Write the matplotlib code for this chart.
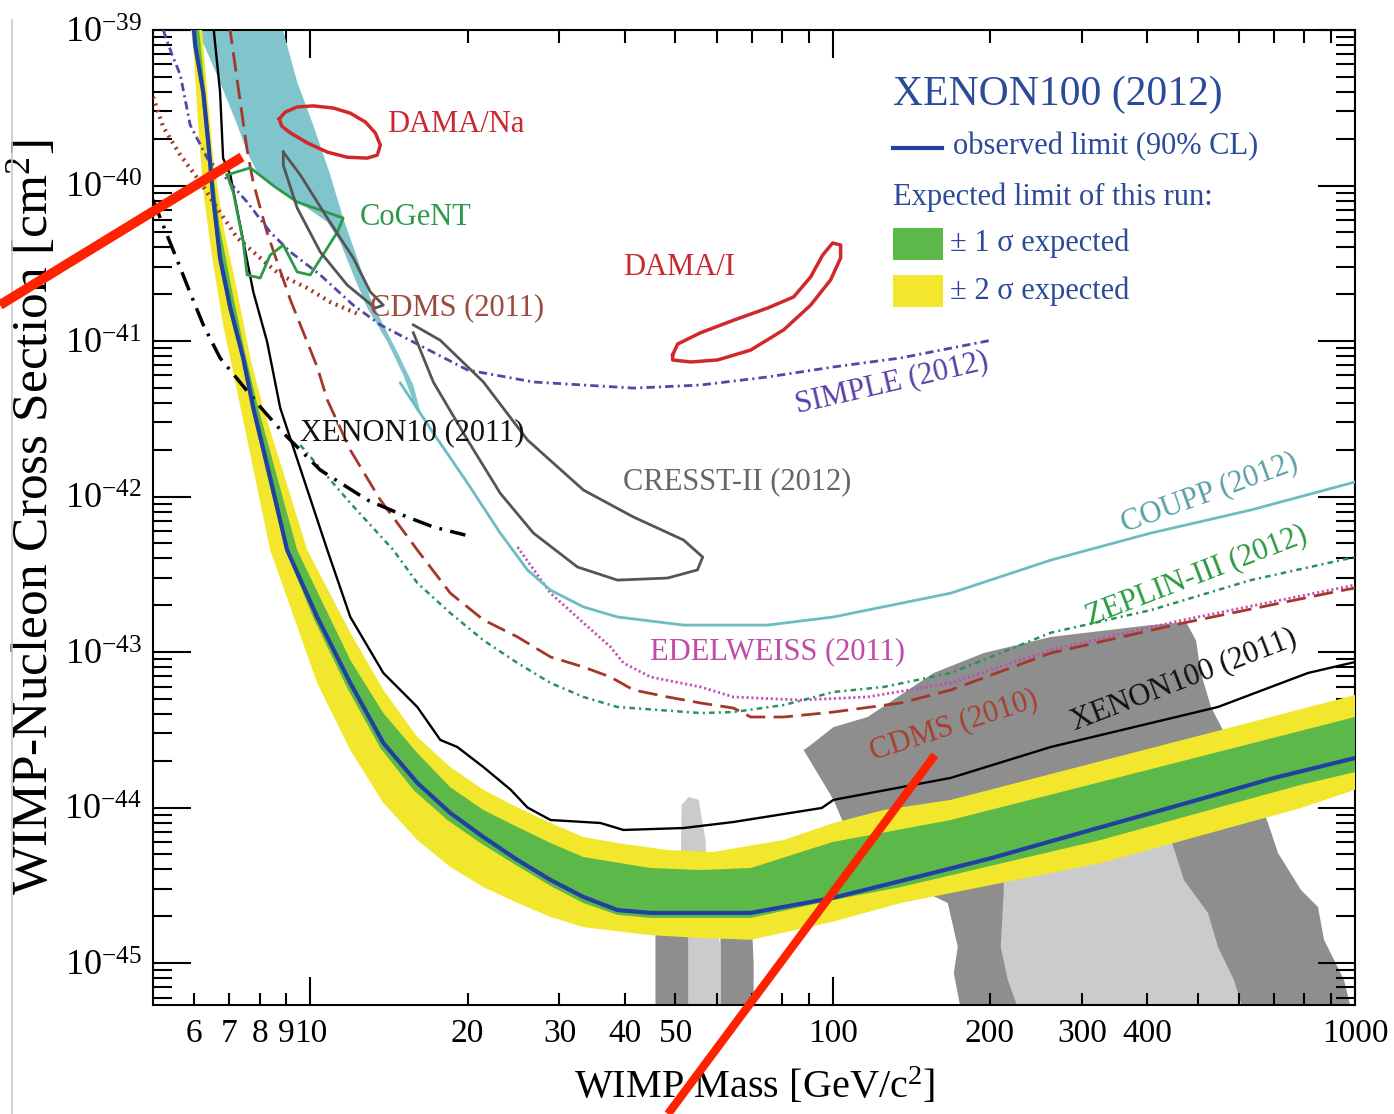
import numpy as np
import matplotlib
matplotlib.use('Agg')
import matplotlib.pyplot as plt
from matplotlib.ticker import FixedLocator, FuncFormatter, NullFormatter
from matplotlib.lines import Line2D
from matplotlib.patches import Rectangle

plt.rcParams['font.family'] = 'serif'
plt.rcParams['font.serif'] = ['Liberation Serif', 'DejaVu Serif']
plt.rcParams['mathtext.fontset'] = 'custom'
plt.rcParams['mathtext.rm'] = 'Liberation Serif'
plt.rcParams['mathtext.it'] = 'Liberation Serif:italic'
plt.rcParams['lines.scale_dashes'] = False

# XENON100 (2012) expected band edges and observed limit  [GeV, cm^2]
yt_m = [6.17, 6.21, 6.35, 6.52, 6.81, 7.25, 7.68, 8.13, 9.87, 11.93, 13.8, 16.03, 18.54, 21.45, 24.93,
        28.84, 33.34, 38.73, 48.3, 59.0, 80.6, 100.4, 125.2, 168.3, 200, 500, 1000]
yt_s = [1.35e-39, 1.0e-39, 3.99e-40, 1.5e-40, 5.57e-41, 2.07e-41, 7.78e-42, 3.71e-42, 4.53e-43, 1.33e-43,
        5.7e-44, 2.84e-44, 1.82e-44, 1.3e-44, 1.0e-44, 7.95e-45, 6.46e-45, 5.91e-45, 5.33e-45, 5.17e-45,
        6.18e-45, 7.95e-45, 9.64e-45, 1.12e-44, 1.3e-44, 2.88e-44, 5.29e-44]
gt_m = [6.10, 6.13, 6.29, 6.46, 6.70, 7.09, 7.54, 7.95, 9.44, 11.93, 13.8, 16.03, 18.54, 21.45, 24.93,
        28.84, 33.34, 44.8, 55.86, 69.7, 100, 168.3, 326, 1000]
gt_s = [1.35e-39, 1.0e-39, 3.99e-40, 1.5e-40, 5.57e-41, 2.07e-41, 7.78e-42, 3.71e-42, 4.53e-43, 8.88e-44,
        4.05e-44, 2.24e-44, 1.35e-44, 9.64e-45, 7.49e-45, 5.91e-45, 4.8e-45, 4.08e-45, 3.96e-45, 4.08e-45,
        6.0e-45, 8.31e-45, 1.46e-44, 3.82e-44]
gb_m = [5.92, 6.0, 6.18, 6.32, 6.46, 6.67, 6.97, 7.38, 7.71, 8.31, 8.96, 10.18, 11.77, 13.62, 15.75,
        18.30, 21.17, 24.93, 28.84, 33.34, 38.73, 44.8, 55.86, 69.7, 100, 135, 326, 788, 1000]
gb_s = [1.16e-39, 8.01e-40, 3.99e-40, 1.9e-40, 8.31e-41, 3.42e-41, 1.63e-41, 7.78e-42, 3.71e-42, 1.28e-42,
        4.53e-43, 1.61e-43, 5.87e-44, 2.41e-44, 1.3e-44, 8.31e-45, 5.91e-45, 4.2e-45, 3.13e-45, 2.43e-45,
        2.04e-45, 1.95e-45, 1.95e-45, 1.95e-45, 2.54e-45, 3.08e-45, 6.18e-45, 1.4e-44, 1.69e-44]
yb_m = [5.89, 5.97, 6.10, 6.24, 6.49, 6.81, 7.25, 8.38, 10.31, 11.93, 13.8, 16.03, 18.54, 21.45, 24.93,
        28.84, 33.34, 44.8, 55.86, 69.7, 100, 135, 326, 788, 1000]
yb_s = [1.08e-39, 8.01e-40, 2.45e-40, 9.08e-41, 3.42e-41, 1.27e-41, 4.7e-42, 4.53e-43, 6.32e-44, 2.34e-44,
        1.07e-44, 6.18e-45, 4.14e-45, 3.08e-45, 2.43e-45, 1.98e-45, 1.7e-45, 1.51e-45, 1.45e-45, 1.41e-45,
        1.84e-45, 2.43e-45, 4.39e-45, 9.93e-45, 1.3e-44]
obs_m = [5.97, 6.02, 6.24, 6.38, 6.52, 6.72, 7.03, 7.44, 7.78, 8.38, 9.03, 10.31, 11.93, 13.8, 16.03,
         18.54, 21.45, 24.93, 28.84, 33.34, 38.73, 44.8, 55.86, 69.7, 100, 150, 200, 300, 500, 700, 1000]
obs_s = [1.16e-39, 8.01e-40, 3.99e-40, 1.9e-40, 8.31e-41, 3.42e-41, 1.63e-41, 7.78e-42, 3.71e-42, 1.32e-42,
         4.53e-43, 1.68e-43, 6.32e-44, 2.6e-44, 1.44e-44, 9.22e-45, 6.46e-45, 4.6e-45, 3.42e-45, 2.66e-45,
         2.19e-45, 2.1e-45, 2.1e-45, 2.1e-45, 2.62e-45, 3.68e-45, 4.7e-45, 6.9e-45, 1.12e-44, 1.55e-44, 2.08e-44]

# other limits
x100_11_m = [6.52, 6.72, 6.81, 7.03, 7.34, 7.78, 8.27, 8.76, 10.78, 11.93, 13.8, 16.03, 17.74, 19.12, 21.45,
             24.2, 26.05, 28.84, 35.94, 39.78, 51.83, 64.6, 95.3, 100.4, 168.3, 261.6, 546.5, 812.8, 1000]
x100_11_s = [1.08e-39, 3.99e-40, 1.5e-40, 1.17e-40, 5.57e-41, 2.07e-41, 9.85e-42, 3.71e-42, 4.53e-43, 1.68e-43,
             7.33e-44, 4.43e-44, 2.72e-44, 2.45e-44, 1.82e-44, 1.3e-44, 1.0e-44, 8.31e-45, 7.95e-45, 7.17e-45,
             7.38e-45, 8.07e-45, 9.93e-45, 1.12e-44, 1.55e-44, 2.45e-44, 4.43e-44, 7.33e-44, 8.62e-44]
cdms10_m = [7.0, 7.57, 7.78, 8.27, 9.16, 10.31, 10.78, 11.93, 13.62, 16.03, 18.54, 21.45, 24.93, 28.84, 33.34,
            37.55, 41.57, 48.3, 55.86, 64.6, 69.7, 80.6, 100.4, 135, 168.3, 261.6, 470.4, 911.6, 1000]
cdms10_s = [1.08e-39, 1.69e-40, 1.04e-40, 4.95e-41, 1.84e-41, 6.81e-42, 4.18e-42, 1.99e-42, 9.5e-43, 4.53e-43,
            2.39e-43, 1.61e-43, 1.25e-43, 9.29e-44, 8.01e-44, 6.91e-44, 5.7e-44, 5.14e-44, 4.7e-44, 4.36e-44,
            3.82e-44, 3.82e-44, 4.11e-44, 4.7e-44, 5.7e-44, 9.85e-44, 1.54e-43, 2.43e-43, 2.58e-43]
edel_m = [24.93, 28.84, 33.34, 37.55, 39.78, 44.8, 55.86, 64.6, 86.8, 116.7, 168.3, 261.6, 470.4, 1000]
edel_s = [4.73e-43, 2.39e-43, 1.54e-43, 1.08e-43, 8.5e-44, 6.91e-44, 5.96e-44, 5.14e-44, 4.91e-44, 5.14e-44,
          6.32e-44, 1.03e-43, 1.61e-43, 2.7e-43]
zep_m = [9.57, 11.93, 14.42, 16.03, 18.54, 21.45, 24.93, 28.84, 33.34, 38.73, 55.86, 64.6, 80.6, 100.4, 125.2,
         168.3, 261.6, 406.6, 632.1, 1000]
zep_s = [2.14e-42, 9.08e-43, 4.53e-43, 2.78e-43, 1.78e-43, 1.19e-43, 8.5e-44, 6.32e-44, 5.14e-44, 4.43e-44,
         4.05e-44, 4.11e-44, 4.56e-44, 5.53e-44, 5.96e-44, 7.33e-44, 1.33e-43, 1.86e-43, 2.9e-43, 4.08e-43]
coupp_m = [14.87, 17.2, 20.0, 23.1, 26.05, 28.84, 33.34, 38.73, 51.83, 75.1, 100.4, 168.3, 261.6, 406.6, 632.1, 1000]
coupp_s = [5.37e-42, 2.56e-42, 1.22e-42, 5.82e-43, 3.37e-43, 2.5e-43, 1.95e-43, 1.68e-43, 1.49e-43, 1.49e-43,
           1.68e-43, 2.39e-43, 3.9e-43, 5.82e-43, 8.19e-43, 1.24e-42]
cdms11_m = [5.0, 5.23, 5.64, 6.16, 6.63, 7.25, 8.02, 8.76, 9.87, 10.92, 12.47]
cdms11_s = [3.71e-40, 2.38e-40, 1.57e-40, 1.05e-40, 7.17e-41, 4.6e-41, 3.42e-41, 2.66e-41, 2.19e-41, 1.78e-41, 1.47e-41]
simple_m = [5.23, 5.44, 5.64, 5.89, 6.35, 6.81, 7.57, 8.38, 9.16, 10.45, 12.09, 13.62, 15.75, 20.0, 26.74,
            41.57, 55.86, 75.1, 100.4, 135, 200.8]
simple_s = [1.0e-39, 6.91e-40, 5.14e-40, 2.45e-40, 1.5e-40, 1.17e-40, 7.83e-41, 5.02e-41, 3.74e-41, 2.66e-41,
            1.7e-41, 1.27e-41, 9.85e-42, 6.51e-42, 5.45e-42, 4.98e-42, 5.21e-42, 5.87e-42, 6.81e-42, 7.78e-42, 1.01e-41]
x10_m = [5.0, 5.56, 5.89, 6.24, 6.72, 8.02, 8.88, 10.45, 12.86, 15.34, 17.2, 19.81]
x10_s = [8.07e-41, 3.32e-41, 2.04e-41, 1.27e-41, 7.78e-42, 3.77e-42, 2.56e-42, 1.48e-42, 9.5e-43, 7.38e-43,
         6.37e-43, 5.65e-43]

# signal regions (closed contours)
damana_m = [8.72, 8.96, 9.44, 10.13, 11.07, 11.93, 12.75, 13.32, 13.62, 13.44, 12.86, 11.77, 10.78, 9.87, 9.16, 8.82]
damana_s = [2.68e-40, 2.97e-40, 3.2e-40, 3.25e-40, 3.15e-40, 2.92e-40, 2.56e-40, 2.18e-40, 1.82e-40, 1.57e-40,
            1.5e-40, 1.52e-40, 1.64e-40, 1.88e-40, 2.18e-40, 2.41e-40]
damai_m = [49.4, 50.5, 55.86, 64.6, 75.1, 84.2, 90.75, 95.7, 100, 103.6, 103.6, 99.1, 90.75, 80.6, 69.7, 60.2, 53.5, 49.4]
damai_s = [8.13e-42, 9.56e-42, 1.13e-41, 1.36e-41, 1.63e-41, 1.92e-41, 2.58e-41, 3.57e-41, 4.27e-41, 4.14e-41,
           3.42e-41, 2.47e-41, 1.7e-41, 1.18e-41, 8.75e-42, 7.55e-42, 7.33e-42, 7.55e-42]
cogent_m = [6.93, 7.68, 8.49, 9.44, 11.56, 11.27, 10.0, 9.44, 8.88, 8.38, 8.02, 7.57, 7.44, 7.12]
cogent_s = [1.17e-40, 1.3e-40, 1.0e-40, 7.83e-41, 6.18e-41, 5.02e-41, 2.66e-41, 2.78e-41, 4.14e-41, 3.57e-41,
            2.54e-41, 2.66e-41, 4.33e-41, 9.08e-41]
cresst1_m = [8.88, 9.57, 10.78, 12.09, 13.03, 13.8, 13.32, 11.77, 10.45, 9.44, 8.88]
cresst1_s = [1.64e-40, 1.17e-40, 6.18e-41, 3.42e-41, 2.07e-41, 1.7e-41, 1.63e-41, 2.29e-41, 3.74e-41, 7.17e-41, 1.35e-40]
cresst2_m = [15.75, 17.74, 21.45, 26.05, 33.34, 41.57, 51.83, 56.4, 55.1, 48.3, 38.73, 32.47, 26.74, 23.1, 20.0, 17.2, 15.75]
cresst2_s = [1.27e-41, 1.01e-41, 5.45e-42, 2.31e-42, 1.1e-42, 7.38e-43, 5.25e-43, 4.08e-43, 3.37e-43, 2.99e-43,
             2.9e-43, 3.52e-43, 5.82e-43, 1.05e-42, 2.31e-42, 5.45e-42, 1.13e-41]
cyan_m = [5.97, 6.63, 7.25, 7.57, 7.91, 8.76, 9.87, 10.78, 11.41, 12.09, 12.86, 14.05, 15.07, 16.03,
          16.25, 15.75, 14.68, 13.8, 13.03, 12.30, 11.56, 10.92, 10.13, 9.44, 8.76]
cyan_s = [1.16e-39, 5.14e-40, 2.45e-40, 1.64e-40, 1.22e-40, 9.08e-41, 7.17e-41, 5.83e-41, 4.33e-41, 2.66e-41,
          1.63e-41, 9.85e-42, 6.04e-42, 3.49e-42,
          3.49e-42, 5.21e-42, 8.5e-42, 1.27e-41, 1.89e-41, 3.42e-41, 6.18e-41, 1.17e-40, 2.45e-40, 4.63e-40, 1.16e-39]

# theory regions (grey)
dark_m = [88.0, 90.75, 100.4, 116.7, 156.1, 194.7, 261.6, 406.6, 474.6, 496.1, 507, 530, 558.7, 632.1, 681.4,
          712.2, 788, 849.6, 872.4, 952.6, 1000, 178.2, 170.6, 173.6, 166.1, 135, 106.8, 100.4, 95.3]
dark_s = [2.34e-44, 2.52e-44, 3.29e-44, 3.82e-44, 7.33e-44, 9.85e-44, 1.25e-43, 1.49e-43, 1.56e-43, 1.19e-43,
          7.33e-44, 4.43e-44, 3.15e-44, 1.5e-44, 7.95e-45, 5.1e-45, 2.95e-45, 2.29e-45, 1.41e-45, 7.78e-46,
          4e-46, 4e-46, 8.62e-46, 1.27e-45, 2.43e-45, 3.42e-45, 6.86e-45, 1.12e-44, 1.5e-44]
light_m = [212.6, 438.5, 470.4, 523, 546.5, 586.4, 623.7, 232.3, 216.4, 209.8, 212.6]
light_s = [3.96e-45, 7.17e-45, 3.42e-45, 2.1e-45, 1.27e-45, 7.78e-46, 4e-46, 4e-46, 7.78e-46, 1.27e-45, 2.95e-45]
spike_l_m = [45.8, 45.8, 47.9, 53.0, 53.0]
spike_l_s = [4e-46, 1.63e-45, 2.54e-45, 2.54e-45, 4e-46]
spike_r_m = [61.0, 61.0, 69.7, 70.6, 70.6]
spike_r_s = [4e-46, 2.54e-45, 2.54e-45, 1.0e-45, 4e-46]
spike_c_m = [53.0, 53.0, 51.2, 51.4, 53.0, 55.4, 57.1, 57.9, 61.0, 61.0]
spike_c_s = [4e-46, 1.31e-45, 4.6e-45, 1.04e-44, 1.17e-44, 1.12e-44, 6.18e-45, 2.54e-45, 1.31e-45, 4e-46]

x_major = [10, 100, 1000]
x_minor = [6, 7, 8, 9, 20, 30, 40, 50, 60, 70, 80, 90, 200, 300, 400, 500, 600, 700, 800, 900]
x_labeled = [6, 7, 8, 9, 10, 20, 30, 40, 50, 100, 200, 300, 400, 1000]
y_exp = [-45, -44, -43, -42, -41, -40, -39]

fig = plt.figure(figsize=(13.94, 11.14), dpi=100)
ax = fig.add_axes([0.10976, 0.09785, 0.86227, 0.87522])
ax.set_xscale('log')
ax.set_yscale('log')
ax.set_xlim(5, 1000)
ax.set_ylim(5.37e-46, 1e-39)

# grey theory regions
ax.fill(dark_m, dark_s, color='#8e8e8e', lw=0, zorder=1)
ax.fill(light_m, light_s, color='#c9cbcc', lw=0, zorder=1.1)
ax.fill(spike_l_m, spike_l_s, color='#8e8e8e', lw=0, zorder=1)
ax.fill(spike_r_m, spike_r_s, color='#8e8e8e', lw=0, zorder=1)
ax.fill(spike_c_m, spike_c_s, color='#c9cbcc', lw=0, zorder=1.1)

# cyan region
ax.fill(cyan_m, cyan_s, color='#7fc5cb', lw=0, zorder=2)

# expected band
ax.fill(yt_m + yb_m[::-1], yt_s + yb_s[::-1], color='#f2e72c', lw=0, zorder=3)
ax.fill(gt_m + gb_m[::-1], gt_s + gb_s[::-1], color='#5db84a', lw=0, zorder=3.1)

# limits
ax.plot(x100_11_m, x100_11_s, color='black', lw=1.7, zorder=4)
ax.plot(cdms10_m, cdms10_s, color='#a3382a', lw=2.0, dashes=(14, 6), zorder=4)
ax.plot(edel_m, edel_s, color='#c24cb4', lw=2.0, dashes=(1.5, 2.0), zorder=4)
ax.plot(zep_m, zep_s, color='#27935a', lw=1.8, dashes=(4, 3, 1.5, 3), zorder=4)
ax.plot(coupp_m, coupp_s, color='#6cbcc2', lw=2.0, zorder=4)
ax.plot(cdms11_m, cdms11_s, color='#a3382a', lw=3.0, dashes=(1.5, 3.5), zorder=4)
ax.plot(simple_m, simple_s, color='#5545a8', lw=2.0, dashes=(6, 3, 1.5, 3), zorder=4)
ax.plot(x10_m, x10_s, color='black', lw=2.5, dashes=(14, 6, 2, 6), zorder=4)

# signal contours
ax.plot(damana_m + damana_m[:1], damana_s + damana_s[:1], color='#d2282c', lw=2.5, zorder=4.5)
ax.plot(damai_m + damai_m[:1], damai_s + damai_s[:1], color='#d2282c', lw=2.5, zorder=4.5)
ax.plot(cogent_m + cogent_m[:1], cogent_s + cogent_s[:1], color='#2c9a48', lw=2.0, zorder=4.5)
ax.plot(cresst1_m + cresst1_m[:1], cresst1_s + cresst1_s[:1], color='#555555', lw=2.0, zorder=4.5)
ax.plot(cresst2_m, cresst2_s, color='#555555', lw=2.0, zorder=4.5)

# observed XENON100 (2012)
ax.plot(obs_m, obs_s, color='#2140a0', lw=3.0, zorder=5)

# axes, ticks
for s in ax.spines.values():
    s.set_linewidth(1.5)
ax.xaxis.set_major_locator(FixedLocator(x_major))
ax.xaxis.set_minor_locator(FixedLocator(x_minor))


def xfmt(v, pos):
    return '%d' % round(v) if round(v) in x_labeled else ''


ax.xaxis.set_major_formatter(FuncFormatter(xfmt))
ax.xaxis.set_minor_formatter(FuncFormatter(xfmt))
ax.yaxis.set_major_locator(FixedLocator([10.0 ** e for e in y_exp]))
ax.yaxis.set_minor_locator(FixedLocator([k * 10.0 ** e for e in [-46] + y_exp[:-1] for k in range(2, 10)
                                         if 5.37e-46 < k * 10.0 ** e < 1e-39]))
ax.yaxis.set_major_formatter(FuncFormatter(lambda v, p: r'$10^{%d}$' % round(np.log10(v))))
ax.yaxis.set_minor_formatter(NullFormatter())

ax.tick_params(axis='both', which='both', direction='in', top=True, right=True, width=1.5)
ax.tick_params(axis='x', which='major', length=20, labelsize=24, pad=10)
ax.tick_params(axis='x', which='minor', length=9, labelsize=24, pad=10)
ax.tick_params(axis='y', which='major', length=27, labelsize=26, pad=8)
ax.tick_params(axis='y', which='minor', length=14)

ax.set_xlabel(r'WIMP Mass [GeV/c$^{2}$]', fontsize=29)
ax.xaxis.set_label_coords(0.5, -0.063)
ax.set_ylabel(r'WIMP-Nucleon Cross Section [cm$^{2}$]', fontsize=37)
ax.yaxis.set_label_coords(-0.079, 0.5)

# labels
lab = dict(transform=ax.transAxes, fontsize=22, zorder=6)
ax.text(0.1947, 0.9026, 'DAMA/Na', color='#c8282f', va='center', **lab)
ax.text(0.1722, 0.8082, 'CoGeNT', color='#2c9a4a', va='center', **lab)
ax.text(0.1805, 0.7149, 'CDMS (2011)', color='#9c4a3c', va='center', **lab)
ax.text(0.391, 0.7559, 'DAMA/I', color='#c8282f', va='center', **lab)
ax.text(0.1223, 0.5867, 'XENON10 (2011)', color='#111111', va='center', **lab)
ax.text(0.391, 0.5364, 'CRESST-II (2012)', color='#666666', va='center', **lab)
ax.text(0.4135, 0.3621, 'EDELWEISS (2011)', color='#c04aa8', va='center', **lab)
ax.text(0.5358, 0.6082, 'SIMPLE (2012)', color='#5a3fa8', rotation=13, rotation_mode='anchor',
        va='baseline', **lab)
ax.text(0.8087, 0.4851, 'COUPP (2012)', color='#5aa0a8', rotation=20, rotation_mode='anchor',
        va='baseline', **lab)
ax.text(0.7795, 0.3897, 'ZEPLIN-III (2012)', color='#2a9a40', rotation=21, rotation_mode='anchor',
        va='baseline', **lab)
ax.text(0.599, 0.2513, 'CDMS (2010)', color='#a8402f', rotation=18, rotation_mode='anchor',
        va='baseline', **lab)
ax.text(0.767, 0.282, 'XENON100 (2011)', color='#111111', rotation=21, rotation_mode='anchor',
        va='baseline', **lab)

# legend block
leg_c = '#2b4a9a'
ax.text(0.6156, 0.9333, 'XENON100 (2012)', color=leg_c, fontsize=30, va='center',
        transform=ax.transAxes, zorder=6)
ax.plot([0.6156, 0.6564], [0.879, 0.879], color='#2140a0', lw=3.0, transform=ax.transAxes, zorder=6)
ax.text(0.6656, 0.88, 'observed limit (90% CL)', color=leg_c, fontsize=22, va='center',
        transform=ax.transAxes, zorder=6)
ax.text(0.6156, 0.8287, 'Expected limit of this run:', color=leg_c, fontsize=22, va='center',
        transform=ax.transAxes, zorder=6)
ax.add_patch(Rectangle((0.6156, 0.7641), 0.0416, 0.0328, transform=ax.transAxes,
                       color='#5db84a', lw=0, zorder=6))
ax.text(0.663, 0.7815, '± 1 σ expected', color=leg_c, fontsize=22, va='center',
        transform=ax.transAxes, zorder=6)
ax.add_patch(Rectangle((0.6156, 0.7159), 0.0416, 0.0328, transform=ax.transAxes,
                       color='#f2e72c', lw=0, zorder=6))
ax.text(0.663, 0.7323, '± 2 σ expected', color=leg_c, fontsize=22, va='center',
        transform=ax.transAxes, zorder=6)

# frame line and red strokes drawn over the picture
fig.add_artist(Line2D([12 / 1394, 12 / 1394], [0, 1 - 20 / 1114], transform=fig.transFigure,
                      color='#c8c8c8', lw=1.2))
fig.add_artist(Line2D([0, 0.1736], [0.7262, 0.8591], transform=fig.transFigure,
                      color='#ff2200', lw=7, solid_capstyle='butt', zorder=10))
fig.add_artist(Line2D([0.4792, 0.6707], [0, 0.3223], transform=fig.transFigure,
                      color='#ff2200', lw=6, solid_capstyle='butt', zorder=10))

fig.savefig('out.png', dpi=100)
